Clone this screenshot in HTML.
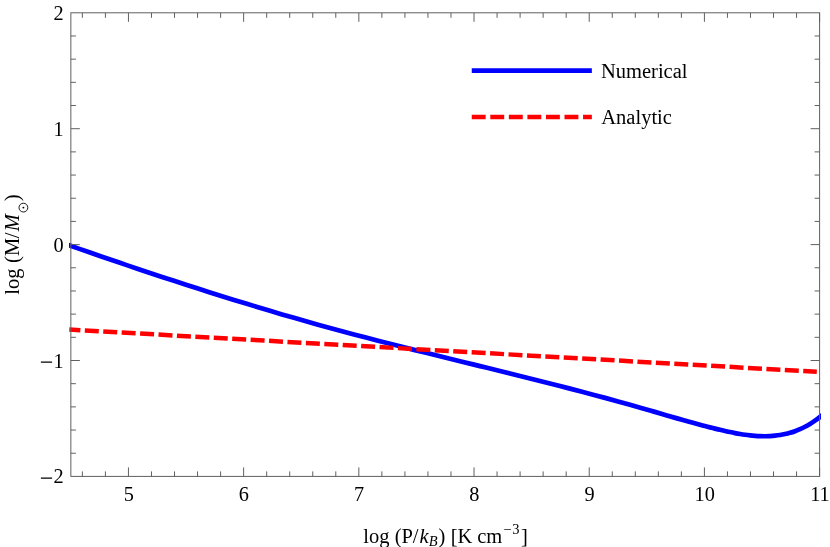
<!DOCTYPE html>
<html><head><meta charset="utf-8"><title>plot</title>
<style>
html,body{margin:0;padding:0;background:#fff;}
body{width:830px;height:547px;overflow:hidden;position:relative;font-family:"Liberation Serif",serif;}
svg{position:absolute;left:0;top:0;display:block;will-change:transform}
svg text{font-family:"Liberation Serif",serif;fill:#000}
</style></head><body>
<svg width="830" height="547" viewBox="0 0 830 547">
<rect width="830" height="547" fill="#fff"/>
<defs><clipPath id="pc"><rect x="69.1" y="0" width="751.9" height="547"/></clipPath></defs>
<g fill="none" stroke="#0000ff" stroke-width="4.7" stroke-linejoin="round">
<path clip-path="url(#pc)" d="M66 244.18 C68 244.88 74 246.98 78 248.37 C82 249.77 86 251.16 90 252.54 C94 253.93 98 255.31 102 256.68 C106 258.06 110 259.43 114 260.8 C118 262.16 122 263.52 126 264.88 C130 266.23 134 267.58 138 268.92 C142 270.27 146 271.6 150 272.93 C154 274.27 158 275.59 162 276.91 C166 278.23 170 279.54 174 280.85 C178 282.16 182 283.46 186 284.75 C190 286.04 194 287.33 198 288.61 C202 289.89 206 291.16 210 292.43 C214 293.69 218 294.95 222 296.2 C226 297.45 230 298.7 234 299.93 C238 301.17 242 302.4 246 303.62 C250 304.84 254 306.05 258 307.25 C262 308.46 266 309.65 270 310.84 C274 312.03 278 313.21 282 314.38 C286 315.55 290 316.71 294 317.86 C298 319.01 302 320.15 306 321.29 C310 322.42 314 323.55 318 324.66 C322 325.78 326 326.88 330 327.98 C334 329.08 338 330.16 342 331.24 C346 332.32 350 333.39 354 334.45 C358 335.51 362 336.56 366 337.6 C370 338.65 374 339.69 378 340.72 C382 341.75 386 342.77 390 343.79 C394 344.81 398 345.83 402 346.83 C406 347.84 410 348.85 414 349.85 C418 350.85 422 351.84 426 352.83 C430 353.83 434 354.81 438 355.8 C442 356.79 446 357.77 450 358.76 C454 359.74 458 360.72 462 361.7 C466 362.68 470 363.66 474 364.64 C478 365.62 482 366.6 486 367.58 C490 368.57 494 369.55 498 370.53 C502 371.52 506 372.5 510 373.49 C514 374.48 518 375.47 522 376.46 C526 377.46 530 378.46 534 379.46 C538 380.46 542 381.47 546 382.48 C550 383.49 554 384.51 558 385.53 C562 386.55 566 387.58 570 388.62 C574 389.65 578 390.69 582 391.74 C586 392.79 590 393.85 594 394.92 C598 395.98 602 397.06 606 398.14 C610 399.22 614 400.31 618 401.42 C622 402.52 626 403.63 630 404.75 C634 405.88 638 407.01 642 408.16 C646 409.3 650 410.47 654 411.63 C658 412.79 662 413.97 666 415.14 C670 416.31 674 417.48 678 418.63 C682 419.78 686.33 421.01 690 422.04 C693.67 423.06 697.5 424.1 700 424.78 C702.5 425.45 703.33 425.66 705 426.1 C706.67 426.53 708.33 426.96 710 427.39 C711.67 427.81 713.33 428.22 715 428.63 C716.67 429.04 718.33 429.44 720 429.83 C721.67 430.22 723.33 430.61 725 430.98 C726.67 431.35 728.33 431.72 730 432.07 C731.67 432.42 733.33 432.76 735 433.07 C736.67 433.39 738.33 433.69 740 433.97 C741.67 434.25 743.33 434.52 745 434.75 C746.67 434.99 748.33 435.2 750 435.38 C751.67 435.57 753.33 435.73 755 435.86 C756.67 435.98 758.33 436.08 760 436.14 C761.67 436.21 763.33 436.24 765 436.23 C766.67 436.22 768.33 436.18 770 436.09 C771.67 436 773.33 435.87 775 435.7 C776.67 435.52 778.33 435.31 780 435.04 C781.67 434.77 783.33 434.45 785 434.08 C786.67 433.7 788.33 433.28 790 432.8 C791.67 432.31 793.33 431.77 795 431.17 C796.67 430.56 798.33 429.9 800 429.17 C801.67 428.43 803.33 427.64 805 426.77 C806.67 425.9 808.33 424.96 810 423.94 C811.67 422.93 813.33 421.84 815 420.68 C816.67 419.51 818.33 418.26 820 416.93 C821.67 415.6 824.17 413.4 825 412.69"/>
<path d="M471.75 70.6 H591.85"/>
</g>
<g fill="none" stroke="#ff0000" stroke-width="4.5" stroke-dasharray="14 4.45">
<path d="M69.3 329.55 L816.8 371.8" stroke-dashoffset="2.9"/>
<path d="M471.75 117 H591.85" stroke-dasharray="13.9 4.65"/>
</g>
<g fill="none" stroke="#606060" stroke-width="1">
<path d="M82.37 476.4 v-5 M82.37 12.8 v5"/><path d="M105.41 476.4 v-5 M105.41 12.8 v5"/><path d="M128.45 476.4 v-9 M128.45 12.8 v9"/><path d="M151.48 476.4 v-5 M151.48 12.8 v5"/><path d="M174.52 476.4 v-5 M174.52 12.8 v5"/><path d="M197.56 476.4 v-5 M197.56 12.8 v5"/><path d="M220.6 476.4 v-5 M220.6 12.8 v5"/><path d="M243.64 476.4 v-9 M243.64 12.8 v9"/><path d="M266.68 476.4 v-5 M266.68 12.8 v5"/><path d="M289.72 476.4 v-5 M289.72 12.8 v5"/><path d="M312.75 476.4 v-5 M312.75 12.8 v5"/><path d="M335.79 476.4 v-5 M335.79 12.8 v5"/><path d="M358.83 476.4 v-9 M358.83 12.8 v9"/><path d="M381.87 476.4 v-5 M381.87 12.8 v5"/><path d="M404.91 476.4 v-5 M404.91 12.8 v5"/><path d="M427.95 476.4 v-5 M427.95 12.8 v5"/><path d="M450.98 476.4 v-5 M450.98 12.8 v5"/><path d="M474.02 476.4 v-9 M474.02 12.8 v9"/><path d="M497.06 476.4 v-5 M497.06 12.8 v5"/><path d="M520.1 476.4 v-5 M520.1 12.8 v5"/><path d="M543.14 476.4 v-5 M543.14 12.8 v5"/><path d="M566.18 476.4 v-5 M566.18 12.8 v5"/><path d="M589.22 476.4 v-9 M589.22 12.8 v9"/><path d="M612.25 476.4 v-5 M612.25 12.8 v5"/><path d="M635.29 476.4 v-5 M635.29 12.8 v5"/><path d="M658.33 476.4 v-5 M658.33 12.8 v5"/><path d="M681.37 476.4 v-5 M681.37 12.8 v5"/><path d="M704.41 476.4 v-9 M704.41 12.8 v9"/><path d="M727.45 476.4 v-5 M727.45 12.8 v5"/><path d="M750.48 476.4 v-5 M750.48 12.8 v5"/><path d="M773.52 476.4 v-5 M773.52 12.8 v5"/><path d="M796.56 476.4 v-5 M796.56 12.8 v5"/><path d="M819.6 476.4 v-9 M819.6 12.8 v9"/><path d="M70.85 453.22 h5 M819.6 453.22 h-5"/><path d="M70.85 430.04 h5 M819.6 430.04 h-5"/><path d="M70.85 406.86 h5 M819.6 406.86 h-5"/><path d="M70.85 383.68 h5 M819.6 383.68 h-5"/><path d="M70.85 360.5 h9 M819.6 360.5 h-9"/><path d="M70.85 337.32 h5 M819.6 337.32 h-5"/><path d="M70.85 314.14 h5 M819.6 314.14 h-5"/><path d="M70.85 290.96 h5 M819.6 290.96 h-5"/><path d="M70.85 267.78 h5 M819.6 267.78 h-5"/><path d="M70.85 244.6 h9 M819.6 244.6 h-9"/><path d="M70.85 221.42 h5 M819.6 221.42 h-5"/><path d="M70.85 198.24 h5 M819.6 198.24 h-5"/><path d="M70.85 175.06 h5 M819.6 175.06 h-5"/><path d="M70.85 151.88 h5 M819.6 151.88 h-5"/><path d="M70.85 128.7 h9 M819.6 128.7 h-9"/><path d="M70.85 105.52 h5 M819.6 105.52 h-5"/><path d="M70.85 82.34 h5 M819.6 82.34 h-5"/><path d="M70.85 59.16 h5 M819.6 59.16 h-5"/><path d="M70.85 35.98 h5 M819.6 35.98 h-5"/>
</g>
<rect x="70.85" y="12.8" width="748.75" height="463.6" fill="none" stroke="#606060" stroke-width="1"/>
<g font-size="20.3"><text x="128.75" y="501.3" text-anchor="middle">5</text><text x="243.94" y="501.3" text-anchor="middle">6</text><text x="359.13" y="501.3" text-anchor="middle">7</text><text x="474.32" y="501.3" text-anchor="middle">8</text><text x="589.52" y="501.3" text-anchor="middle">9</text><text x="704.71" y="501.3" text-anchor="middle">10</text><text x="819.9" y="501.3" text-anchor="middle">11</text><text x="63.6" y="483.4" text-anchor="end">2</text><text x="63.6" y="367.5" text-anchor="end">1</text><text x="63.6" y="251.6" text-anchor="end">0</text><text x="63.6" y="135.7" text-anchor="end">1</text><text x="63.6" y="19.8" text-anchor="end">2</text><path d="M40.9 362.15 H52.1 M40.9 478.05 H52.1" stroke="#000" stroke-width="1.25" fill="none"/></g>
<g font-size="20.5">
<text x="601.0" y="77.7">Numerical</text>
<text x="601.3" y="123.8">Analytic</text>
<text y="542.5"><tspan x="363.25">log</tspan><tspan x="394.65">(P/</tspan><tspan x="419.4" font-style="italic">k</tspan><tspan x="438.6">)</tspan><tspan x="450.7">[K</tspan><tspan x="477.25">cm</tspan><tspan x="521.05">]</tspan></text>
<text x="428.65" y="546" font-size="14.5" font-style="italic">B</text>
<text y="534.05" font-size="14.5"><tspan x="503.25">−</tspan><tspan x="512.3">3</tspan></text>
<g transform="translate(19 294.75) rotate(-90)">
<text y="0"><tspan x="0">log</tspan><tspan x="31.8">(</tspan><tspan x="38.65">M</tspan><tspan x="56.6">/</tspan><tspan x="63.45" font-style="italic">M</tspan><tspan x="93.45">)</tspan></text>
<circle cx="87.15" cy="4.4" r="4.4" fill="none" stroke="#000" stroke-width="0.9"/>
<circle cx="87.15" cy="4.4" r="0.95" fill="#000"/>
</g>
</g>
</svg>
</body></html>
